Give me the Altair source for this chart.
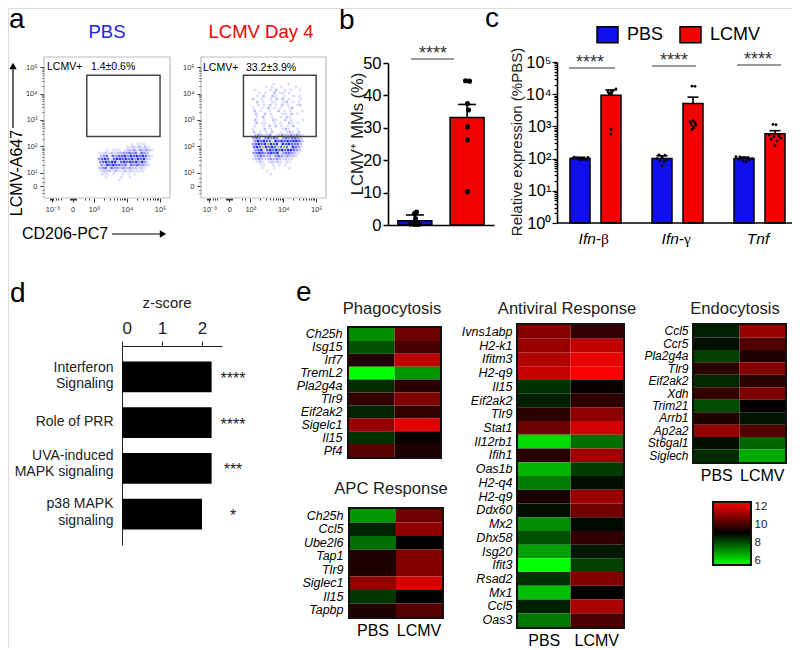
import json
import altair as alt
import pandas as pd

# ---------- values ----------
FONT = "Liberation Sans"
BLUE, RED = "#1010ee", "#f40000"
W, H = 784, 640

flow_major_x = [1.75, 2.36, 3, 4, 5]
flow_labels_x = ["10⁻³", "0", "10³", "10⁴", "10⁵"]
flow_minor_x = [1.67, 1.7, 1.78, 1.85, 1.92, 2.0, 2.27, 2.3, 2.33, 2.39, 2.42, 2.45, 2.75, 2.85, 3.3, 3.48, 3.6, 3.7, 3.78, 3.85, 3.9, 3.95,
                4.3, 4.48, 4.6, 4.7, 4.78, 4.85, 4.9, 4.95]
flow_major_y = [0.5, 1, 2, 3, 4, 5]
flow_labels_y = ["0", "10¹", "10²", "10³", "10⁴", "10⁵"]
flow_minor_y = [0.25, 0.35, 0.65, 0.8, 1.3, 1.48, 1.6, 1.7, 1.78, 1.85, 1.9, 1.95, 2.3, 2.48, 2.6, 2.7, 2.78, 2.85, 2.9, 2.95,
                3.3, 3.48, 3.6, 3.7, 3.78, 3.85, 3.9, 3.95, 4.3, 4.48, 4.6, 4.7, 4.78, 4.85, 4.9, 4.95]

pbs_cloud = [
    "0000000000001011100", "0000000000112121210", "0001011101223132321",
    "0112121223343414320", "0234143445354545421", "0345414554565356521",
    "0345655145454535310", "0325454434143433210", "0234143323232212100",
    "0122212112121111000", "0011101001010100000", "0001000010010000000",
    "0000000100000000000",
]
lcmv_cloud = [
    "000000010000100000", "000010100100001000", "100001020010100100",
    "001010020110100000", "010200210010010100", "200100102020100010",
    "020100110012010100", "010102010201001200", "100102010100120000",
    "201001002010100010", "020020100011020100", "010200100102100000",
    "200100210020100010", "020110010100210100", "100102020101020000",
    "100020100012100100", "201010200101210200", "232123012322323210",
    "343134343034344320", "354546154545455420", "345657565156566420",
    "456756567676154310", "345145656565543200", "345434545134432100",
    "234323134323221000", "123212323212110000", "012101212101100000",
    "001100101010000000", "000100010000100000", "000010000000000000",
    "000000100000000000",
]
density_colors = ["#dcdcff", "#bcbcff", "#9494ff", "#6464ff", "#3030f0", "#4f86c8", "#d8b878"]

b_groups = ["PBS", "LCMV"]
b_means = [1.3, 33.2]
b_tops = [3.1, 37.2]
b_pbs_y = [4.0, 3.5, 2.0, 1.0, 0.3, 0.2, 0.3, 0.2]
b_pbs_j = [1, -1, 0, 0, -5, 2, 4, -1]
b_lcmv_y = [44.5, 44.4, 37.5, 35.5, 30.3, 26.3, 10.3]
b_lcmv_j = [-2, 2, 0, 1, 0, 0, 0]

c_genes = ["Ifn-β", "Ifn-γ", "Tnf"]
c_conds = ["PBS", "LCMV"]
c_means = {"PBS": [100, 100, 100], "LCMV": [9200, 5100, 590]}
c_tops = {"PBS": [110, 122, 110], "LCMV": [13500, 8100, 735]}
c_dots = {
    ("Ifn-β", "PBS"): ([110, 105, 100, 95, 90, 100, 108, 92, 98], [-6, -3, 0, 3, 6, -8, 8, 1, -1]),
    ("Ifn-β", "LCMV"): ([14500, 13000, 12000, 11000, 10500, 9800, 810, 580], [5, 2, -3, 1, -2, 0, 0, 0]),
    ("Ifn-γ", "PBS"): ([130, 128, 110, 100, 90, 85, 80, 60], [-3, 3, 0, -5, 5, -2, 2, 0]),
    ("Ifn-γ", "LCMV"): ([17800, 17500, 1500, 1400, 1300, 1200, 1100, 1000, 900, 800], [-1, 2, 0, -3, 2, -2, 3, 0, 1, -1]),
    ("Tnf", "PBS"): ([115, 112, 108, 105, 100, 95, 90, 85, 80], [-8, -4, 0, 4, 8, -5, 5, -1, 2]),
    ("Tnf", "LCMV"): ([1150, 1130, 550, 500, 480, 430, 400, 350, 250], [-2, 1, -6, 4, -1, 6, -4, 2, 0]),
}

d_terms = ["Interferon Signaling", "Role of PRR", "UVA-induced MAPK signaling", "p38 MAPK signaling"]
d_line_text = ["Interferon ", "Signaling", "Role of PRR", "UVA-induced ", "MAPK signaling", "p38 MAPK", "signaling"]
d_line_y = [368, 384, 422, 456, 472, 504, 521]
d_values = [2.24, 2.24, 2.24, 2.0]
d_stars = ["****", "****", "***", "*"]

phago_genes = ["Ch25h", "Isg15", "Irf7", "TremL2", "Pla2g4a", "Tlr9", "Eif2ak2", "Sigelc1", "Il15", "Pf4"]
phago_pbs = [7.08, 7.90, 9.48, 5.5, 8.38, 9.69, 8.52, 11.06, 8.31, 10.24]
phago_lcmv = [10.51, 10.03, 11.61, 6.94, 9.62, 10.78, 9.69, 12.09, 9.14, 9.41]

apc_genes = ["Ch25h", "Ccl5", "Ube2l6", "Tap1", "Tlr9", "Siglec1", "Il15", "Tapbp"]
apc_pbs = [6.94, 8.52, 7.49, 9.41, 9.48, 10.99, 8.25, 9.48]
apc_lcmv = [10.51, 10.99, 9.0, 10.78, 10.78, 11.95, 9.0, 10.17]

anti_genes = ["Ivns1abp", "H2-k1", "Ifitm3", "H2-q9", "Il15", "Eif2ak2", "Tlr9", "Stat1", "Il12rb1", "Ifih1", "Oas1b",
              "H2-q4", "H2-q9", "Ddx60", "Mx2", "Dhx58", "Isg20", "Ifit3", "Rsad2", "Mx1", "Ccl5", "Oas3"]
anti_pbs = [10.85, 11.13, 11.47, 11.75, 8.31, 8.59, 9.62, 10.51, 5.98, 9.55, 6.53,
            7.28, 9.34, 8.79, 7.08, 7.9, 6.8, 5.5, 8.31, 6.39, 8.59, 7.35]
anti_lcmv = [9.75, 11.68, 12.23, 12.5, 9.11, 9.62, 10.92, 11.88, 7.49, 11.2, 8.18,
             8.79, 11.13, 10.58, 8.86, 9.69, 8.66, 8.11, 10.78, 9.0, 11.33, 10.03]

endo_genes = ["Ccl5", "Ccr5", "Pla2g4a", "Tlr9", "Eif2ak2", "Xdh", "Trim21", "Arrb1", "Ap2a2", "St6gal1", "Siglech"]
endo_pbs = [8.59, 8.79, 8.11, 9.62, 8.45, 9.75, 7.97, 9.48, 11.06, 8.79, 8.38]
endo_lcmv = [11.06, 10.1, 9.48, 10.85, 9.62, 10.72, 9.07, 8.73, 10.17, 7.63, 6.67]

cbar_levels = [5.5 + 0.125 * i for i in range(56)]
cbar_ticks = [6, 8, 10, 12]

# ---------- helpers ----------
layers = []
one = pd.DataFrame({"a": [0]})


def X(v):
    return v - 8


def Y(v):
    return v - 8


def note(text, x, y, size, color="black", align="center", angle=0, style="normal", baseline="middle", font=FONT):
    layers.append(alt.Chart(one).mark_text(text=text, font=font, fontSize=size, color=color, align=align,
                                           angle=angle, fontStyle=style, baseline=baseline)
                  .encode(x=alt.value(X(x)), y=alt.value(Y(y))))


def line(x1, y1, x2, y2, width=1.5, color="black"):
    layers.append(alt.Chart(one).mark_rule(strokeWidth=width, color=color)
                  .encode(x=alt.value(X(x1)), y=alt.value(Y(y1)), x2=alt.value(X(x2)), y2=alt.value(Y(y2))))


def head(x, y, shape):
    layers.append(alt.Chart(one).mark_point(shape=shape, size=55, filled=True, color="black", opacity=1)
                  .encode(x=alt.value(X(x)), y=alt.value(Y(y))))


def box(x1, y1, x2, y2, width=2, color="black"):
    layers.append(alt.Chart(one).mark_rect(fillOpacity=0, stroke=color, strokeWidth=width)
                  .encode(x=alt.value(X(x1)), y=alt.value(Y(y1)), x2=alt.value(X(x2)), y2=alt.value(Y(y2))))


def expr_list(majors, labels):
    m = json.dumps(majors)
    l = json.dumps(labels, ensure_ascii=False)
    return f"indexof({m},datum.value)>=0 ? {l}[indexof({m},datum.value)] : ''"


def size_cond(majors, big, small):
    return {"condition": {"test": f"indexof({json.dumps(majors)},datum.value)>=0", "value": big}, "value": small}


# ---------- a: flow plots ----------
def flow(x0, x1, y0, y1, cloud, cx, cy, gate):
    sx = alt.Scale(domain=[1.5, 5.3], range=[X(x0), X(x1)], nice=False, zero=False)
    sy = alt.Scale(domain=[0.053, 5.38], range=[Y(y1), Y(y0)], nice=False, zero=False)
    frame = pd.DataFrame({"x": [1.5], "x2": [5.3], "y": [0.053], "y2": [5.38]})
    layers.append(alt.Chart(frame).mark_rect(fillOpacity=0, stroke="#bdbdbd", strokeWidth=1.2).encode(
        x=alt.X("x:Q", scale=sx, axis=alt.Axis(
            orient="bottom", offset=Y(y1) - H, title=None, grid=False, domain=False,
            values=flow_major_x + flow_minor_x, labelExpr=expr_list(flow_major_x, flow_labels_x),
            tickSize=size_cond(flow_major_x, 4, 2), tickColor="black", tickWidth=0.8, labelFontSize=7.5,
            labelColor="#333", labelPadding=3, labelOverlap=False, labelFont=FONT)),
        x2="x2:Q",
        y=alt.Y("y:Q", scale=sy, axis=alt.Axis(
            orient="left", offset=-X(x0), title=None, grid=False, domain=False,
            values=flow_major_y + flow_minor_y, labelExpr=expr_list(flow_major_y, flow_labels_y),
            tickSize=size_cond(flow_major_y, 4, 2), tickColor="black", tickWidth=0.8, labelFontSize=7.5,
            labelColor="#333", labelPadding=3, labelOverlap=False, labelFont=FONT)),
        y2="y2:Q"))
    recs = []
    for r, row in enumerate(cloud):
        for c, ch in enumerate(row):
            if ch != "0":
                recs.append({"x": cx + c * 0.0905 + (r * 7 % 5) * 0.018, "y": cy - r * 0.1134, "d": int(ch)})
    layers.append(alt.Chart(pd.DataFrame(recs)).mark_square(size=6.5, opacity=1, strokeWidth=0).encode(
        x=alt.X("x:Q", scale=sx, axis=None),
        y=alt.Y("y:Q", scale=sy, axis=None),
        color=alt.Color("d:O", scale=alt.Scale(domain=[1, 2, 3, 4, 5, 6, 7], range=density_colors), legend=None)))
    g = pd.DataFrame({"x": [gate[0]], "x2": [gate[1]], "y": [gate[2]], "y2": [gate[3]]})
    layers.append(alt.Chart(g).mark_rect(fillOpacity=0, stroke="#444", strokeWidth=1.5).encode(
        x=alt.X("x:Q", scale=sx, axis=None), x2="x2:Q",
        y=alt.Y("y:Q", scale=sy, axis=None), y2="y2:Q"))


flow(44, 170, 57, 198, pbs_cloud, 3.068, 2.095, [2.79, 5.0, 2.38, 4.69])
flow(201, 326, 57, 198, lcmv_cloud, 3.08, 4.36, [2.79, 5.0, 2.38, 4.69])
note("PBS", 107, 32, 18.5, color="#2020f0")
note("LCMV Day 4", 261, 32, 18.5, color="#f00000")
note("LCMV+", 47, 67, 10.5, align="left")
note("1.4±0.6%", 91, 67, 10.5, align="left")
note("LCMV+", 203, 68, 10.5, align="left")
note("33.2±3.9%", 246, 68, 10.5, align="left")
note("LCMV-A647", 16.5, 173, 16, angle=270)
line(13, 128, 13, 66, 1.2)
head(13, 66, "triangle-up")
note("CD206-PC7", 22, 234, 16, align="left")
line(112, 234, 162, 234, 1.2)
head(163, 234, "triangle-right")

# ---------- b ----------
by = alt.Scale(domain=[0, 50], range=[Y(225), Y(63)], nice=False)
bx = alt.Scale(type="band", domain=b_groups, range=[X(388), X(494)], paddingInner=0.35, paddingOuter=0.19)
bq = alt.Scale(domain=[0, 2], range=[X(389.5), X(493.5)], nice=False, zero=False)
bdf = pd.DataFrame({"g": b_groups, "m": b_means, "t": b_tops})
layers.append(alt.Chart(bdf).mark_bar(stroke="black", strokeWidth=1.5).encode(
    x=alt.X("g:N", scale=bx, axis=alt.Axis(orient="bottom", offset=Y(225) - H, title=None, labels=False, ticks=False,
                                           domainColor="black", domainWidth=1.6)),
    y=alt.Y("m:Q", scale=by, stack=None, axis=alt.Axis(
        orient="left", offset=-X(388), title=None, grid=False, values=[0, 10, 20, 30, 40, 50], tickSize=5,
        tickWidth=1.5, tickColor="black", domainColor="black", domainWidth=1.6, labelFontSize=16.5, labelColor="black",
        labelPadding=2, labelFont=FONT, labelOverlap=False)),
    y2=alt.datum(0),
    color=alt.Color("g:N", scale=alt.Scale(domain=b_groups, range=[BLUE, RED]), legend=None)))
layers.append(alt.Chart(bdf).mark_rule(strokeWidth=1.6, color="black").encode(
    x=alt.X("g:N", scale=bx, axis=None), y=alt.Y("m:Q", scale=by, axis=None), y2="t:Q"))
layers.append(alt.Chart(bdf).mark_tick(size=18, thickness=1.6, color="black", opacity=1).encode(
    x=alt.X("g:N", scale=bx, axis=None), y=alt.Y("t:Q", scale=by, axis=None)))
bd = pd.DataFrame({"x": [0.5 + j / 52 for j in b_pbs_j] + [1.5 + j / 52 for j in b_lcmv_j], "y": b_pbs_y + b_lcmv_y})
layers.append(alt.Chart(bd).mark_circle(size=26, color="black", opacity=1).encode(
    x=alt.X("x:Q", scale=bq, axis=None), y=alt.Y("y:Q", scale=by, axis=None)))
note("LCMV⁺ MMs (%)", 358, 134, 16.5, color="#222", angle=270)
line(411, 59, 454, 59, 1.2, "#333")
note("****", 433, 59, 18, color="#333", baseline="alphabetic")

# ---------- c ----------
cy = alt.Scale(type="log", domain=[1, 100000], range=[Y(223), Y(62)], nice=False)
cx = alt.Scale(type="band", domain=c_genes, range=[X(554.5), X(800.5)], paddingInner=0, paddingOuter=0)
cq = alt.Scale(domain=[0, 3], range=[X(554.5), X(800.5)], nice=False, zero=False)
center = {"PBS": 0.311, "LCMV": 0.689}
recs = [{"gene": g, "cond": c, "m": c_means[c][i], "t": c_tops[c][i], "pos": i + center[c]}
        for i, g in enumerate(c_genes) for c in c_conds]
cdf = pd.DataFrame(recs)
c_major = [1, 10, 100, 1000, 10000, 100000]
c_labels = ["10⁰", "10¹", "10²", "10³", "10⁴", "10⁵"]
c_ticks = c_major + [m * k for m in c_major[:-1] for k in range(2, 10)]
legend_symbol = "M-1,-0.76H1V0.76H-1Z"
layers.append(alt.Chart(cdf).mark_bar(stroke="black", strokeWidth=1.5).encode(
    x=alt.X("gene:N", scale=cx, sort=c_genes, axis=None),
    xOffset=alt.XOffset("cond:N", sort=c_conds, scale=alt.Scale(domain=c_conds, range=[0, 82], paddingInner=0.355, paddingOuter=0.5)),
    y=alt.Y("m:Q", scale=cy, stack=None, axis=alt.Axis(
        orient="left", offset=-X(557), title=None, grid=False, values=c_ticks, labelExpr=expr_list(c_major, c_labels),
        tickSize=size_cond(c_major, 5, 3), tickWidth=1.2, tickColor="black", domainColor="black", domainWidth=1.6,
        labelFontSize=16.5, labelColor="black", labelPadding=1, labelFont=FONT, labelOverlap=False)),
    y2=alt.datum(1),
    color=alt.Color("cond:N", scale=alt.Scale(domain=c_conds, range=[BLUE, RED]), legend=alt.Legend(
        title=None, orient="none", legendX=X(596), legendY=Y(23), direction="horizontal", columns=2,
        symbolType=legend_symbol, symbolSize=441, symbolStrokeColor="black", symbolStrokeWidth=1.5,
        labelFontSize=18, labelFont=FONT, labelColor="black", labelOffset=8, columnPadding=13))))
layers.append(alt.Chart(cdf).mark_rule(strokeWidth=1.6, color="black").encode(
    x=alt.X("pos:Q", scale=cq, axis=None), y=alt.Y("m:Q", scale=cy, axis=None), y2="t:Q"))
layers.append(alt.Chart(cdf).mark_tick(size=11, thickness=1.6, color="black", opacity=1, orient="horizontal").encode(
    x=alt.X("pos:Q", scale=cq, axis=None), y=alt.Y("t:Q", scale=cy, axis=None)))
rows = []
for i, g in enumerate(c_genes):
    for c in c_conds:
        ys, js = c_dots[(g, c)]
        for y_, j_ in zip(ys, js):
            rows.append({"x": i + center[c] + j_ / 82, "y": y_})
layers.append(alt.Chart(pd.DataFrame(rows)).mark_circle(size=8, color="black", opacity=1).encode(
    x=alt.X("x:Q", scale=cq, axis=None), y=alt.Y("y:Q", scale=cy, axis=None)))
line(557, 223, 795, 223, 1.6)
note("Ifn-", 601, 239, 15.5, style="italic", align="right")
note("β", 601, 239, 15.5, align="left", font="Liberation Serif")
note("Ifn-", 684, 239, 15.5, style="italic", align="right")
note("γ", 684, 239, 15.5, align="left", font="Liberation Serif")
note("Tnf", 758, 239, 15.5, style="italic")
note("Relative expression (%PBS)", 517, 142, 15, color="#222", angle=270)
for a, b, yy, sc in [(569, 615, 68, 590), (652, 696, 66, 674), (737, 781, 65, 758)]:
    line(a, yy, b, yy, 1.2, "#333")
    note("****", sc, yy, 18, color="#333", baseline="alphabetic")

# ---------- d ----------
dx = alt.Scale(domain=[0, 2.5], range=[X(122), X(222)], nice=False)
dy = alt.Scale(type="band", domain=d_terms, range=[Y(346), Y(545)], paddingInner=0.33, paddingOuter=0.34)
ddf = pd.DataFrame({"term": d_terms, "v": d_values, "star": d_stars})
layers.append(alt.Chart(ddf).mark_bar(color="black").encode(
    x=alt.X("v:Q", scale=dx, stack=None, axis=alt.Axis(
        orient="top", offset=-Y(346), title=None, grid=False, values=[0, 1, 2], tickSize=5, tickWidth=1, tickColor="#222",
        domainColor="#222", domainWidth=1, labelFontSize=17, labelColor="#222", labelPadding=4, labelFont=FONT)),
    x2=alt.datum(0),
    y=alt.Y("term:N", scale=dy, sort=d_terms, axis=alt.Axis(
        orient="left", offset=-X(122), title=None, labels=False, ticks=False, domainColor="#222", domainWidth=1))))
for t_, y_ in zip(d_line_text, d_line_y):
    note(t_, 113.5, y_, 14, color="#222", align="right")
layers.append(alt.Chart(ddf).mark_text(font=FONT, fontSize=16, align="center", baseline="alphabetic", color="#222", dy=7).encode(
    x=alt.value(X(233)), y=alt.Y("term:N", scale=dy, sort=d_terms, axis=None), text="star:N"))
note("z-score", 167, 303, 15, color="#222")


# ---------- e ----------
heat_color = alt.Scale(domain=[5.5, 9, 12.5], range=["#00ff00", "#000000", "#ff0000"], interpolate="rgb")


def heat(genes, pbs, lcmv, x0, x1, y0, y1, label_right, show_x, title, title_x, title_y, font=12.5):
    n = len(genes)
    recs = [{"row": i, "cond": "PBS", "v": pbs[i]} for i in range(n)] + \
           [{"row": i, "cond": "LCMV", "v": lcmv[i]} for i in range(n)]
    if show_x:
        xax = alt.Axis(orient="bottom", offset=Y(y1) - H, title=None, domain=False, ticks=False, labelAngle=0, labelFontSize=16,
                       labelColor="black", labelPadding=4, labelFont=FONT)
    else:
        xax = None
    names = json.dumps(genes)
    layers.append(alt.Chart(pd.DataFrame(recs)).mark_rect().encode(
        x=alt.X("cond:N", sort=c_conds, axis=xax,
                scale=alt.Scale(type="band", domain=c_conds, range=[X(x0 + 1), X(x1 - 1)], paddingInner=0, paddingOuter=0)),
        y=alt.Y("row:O", axis=alt.Axis(orient="left", offset=-X(x0), title=None, domain=False, ticks=False,
                                       labelExpr=f"{names}[datum.value]", labelFontSize=font, labelFontStyle="italic",
                                       labelColor="black", labelPadding=x0 - label_right, labelOverlap=False, labelFont=FONT),
                scale=alt.Scale(type="band", domain=list(range(n)), range=[Y(y0 + 1), Y(y1 - 1)], paddingInner=0, paddingOuter=0)),
        color=alt.Color("v:Q", scale=heat_color, legend=None)))
    box(x0, y0, x1, y1, 2, "#111")
    note(title, title_x, title_y, 16.6, color="#222")


heat(phago_genes, phago_pbs, phago_lcmv, 348, 441, 327, 458, 342, False, "Phagocytosis", 392, 309)
heat(apc_genes, apc_pbs, apc_lcmv, 349, 443, 508, 618, 343, True, "APC Response", 391, 489)
heat(anti_genes, anti_pbs, anti_lcmv, 517, 624, 324, 628, 512, True, "Antiviral Response", 567, 309)
heat(endo_genes, endo_pbs, endo_lcmv, 693, 786, 324, 463, 688, True, "Endocytosis", 735, 309, font=12)

cb = pd.DataFrame({"v": cbar_levels, "v2": [min(v + 0.25, 12.5) for v in cbar_levels]})
cby = alt.Scale(domain=[5.5, 12.5], range=[Y(565), Y(502)], nice=False, zero=False)
layers.append(alt.Chart(cb).mark_rect().encode(
    x=alt.value(X(713)), x2=alt.value(X(751)),
    y=alt.Y("v:Q", scale=cby, axis=alt.Axis(orient="right", offset=X(751) - W, title=None, domain=False, ticks=False, grid=False,
                                            values=cbar_ticks, labelFontSize=11.5, labelColor="#222", labelPadding=3, labelFont=FONT)),
    y2="v2:Q",
    color=alt.Color("v:Q", scale=heat_color, legend=None)))
box(713, 502, 751, 565, 2, "#111")

# panel letters
for t, x, y in [("a", 9, 28), ("b", 339, 29), ("c", 485, 27), ("d", 10, 302), ("e", 296, 301)]:
    note(t, x, y, 28, align="left", baseline="alphabetic")

chart = alt.layer(*layers).resolve_scale(x="independent", y="independent", color="independent").properties(
    width=W, height=H, autosize=alt.AutoSizeParams(type="none"), padding=0
).configure_view(stroke=None).configure(font=FONT)

chart.save("out.html", embed_options={"renderer": "svg", "actions": False})
